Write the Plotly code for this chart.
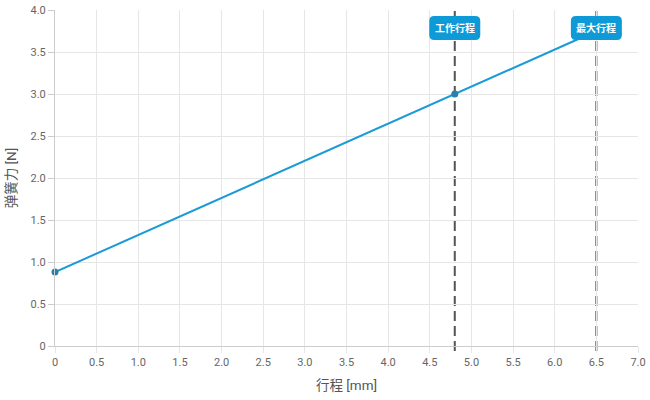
import plotly.graph_objects as go

stroke_mm = [0, 4.8, 6.5]
force_n = [0.88, 3.0, 3.75]
marker_x = [0, 4.8]
marker_y = [0.88, 3.0]
ref_lines = [4.8, 6.5]
ref_labels = ["工作行程", "最大行程"]
x_ticks = [0, 0.5, 1.0, 1.5, 2.0, 2.5, 3.0, 3.5, 4.0, 4.5, 5.0, 5.5, 6.0, 6.5, 7.0]
x_tick_text = ["0", "0.5", "1.0", "1.5", "2.0", "2.5", "3.0", "3.5", "4.0", "4.5", "5.0", "5.5", "6.0", "6.5", "7.0"]
y_ticks = [0, 0.5, 1.0, 1.5, 2.0, 2.5, 3.0, 3.5, 4.0]
y_tick_text = ["0", "0.5", "1.0", "1.5", "2.0", "2.5", "3.0", "3.5", "4.0"]

FONT = "Roboto, 'Noto Sans CJK SC', sans-serif"
BLUE = "#0e9ad7"

fig = go.Figure()
fig.add_trace(go.Scatter(x=stroke_mm, y=force_n, mode="lines",
                         line=dict(color="#1a9ad6", width=2), hoverinfo="skip", cliponaxis=False))
fig.add_trace(go.Scatter(x=marker_x, y=marker_y, mode="markers",
                         marker=dict(color="#2a7fab", size=7), hoverinfo="skip", cliponaxis=False))

shapes = []
for xv in ref_lines:
    shapes.append(dict(type="line", xref="x", yref="paper", x0=xv, x1=xv, y0=-0.015, y1=1,
                       line=dict(color="#555555", width=2, dash="10px,5px"), layer="between"))
w, h, r = 25.5, 12, 5
path = (f"M {-w+r},{-h} L {w-r},{-h} Q {w},{-h} {w},{-h+r} L {w},{h-r} Q {w},{h} {w-r},{h} "
        f"L {-w+r},{h} Q {-w},{h} {-w},{h-r} L {-w},{-h+r} Q {-w},{-h} {-w+r},{-h} Z")
annotations = []
for xv, lab in zip(ref_lines, ref_labels):
    shapes.append(dict(type="path", xref="x", yref="y", xsizemode="pixel", ysizemode="pixel",
                       xanchor=xv, yanchor=3.786, path=path, fillcolor=BLUE,
                       line=dict(width=0), layer="above"))
    annotations.append(dict(x=xv, y=3.786, xref="x", yref="y", text=f"<b>{lab}</b>",
                            showarrow=False, font=dict(color="white", size=10, family=FONT)))

fig.update_layout(
    width=650, height=400,
    margin=dict(l=55, r=12, t=10, b=54, autoexpand=False),
    paper_bgcolor="white", plot_bgcolor="white",
    showlegend=False,
    font=dict(family=FONT, color="#666666", size=11),
    shapes=shapes, annotations=annotations,
    xaxis=dict(range=[0, 7.0], tickvals=x_ticks, ticktext=x_tick_text,
               showgrid=True, gridcolor="#e6e6e6", gridwidth=1,
               showline=True, linecolor="#cccccc", linewidth=1,
               ticks="outside", ticklen=6, tickcolor="#e6e6e6",
               zeroline=False, fixedrange=True, automargin=False,
               ticklabeloverflow="allow",
               title=dict(text="行程 [mm]", font=dict(size=13.5, color="#555555"), standoff=12)),
    yaxis=dict(range=[0, 4.0], tickvals=y_ticks, ticktext=y_tick_text,
               showgrid=True, gridcolor="#e6e6e6", gridwidth=1,
               showline=True, linecolor="#cccccc", linewidth=1,
               ticks="outside", ticklen=6, tickcolor="#cccccc",
               zeroline=False, fixedrange=True, automargin=False,
               ticklabeloverflow="allow",
               title=dict(text="弹簧力 [N]", font=dict(size=13.5, color="#555555"), standoff=10)),
)

fig.write_html("out.html", config={"displayModeBar": False, "staticPlot": True},
               post_script="document.body.style.margin='0';document.body.style.overflow='hidden';")
